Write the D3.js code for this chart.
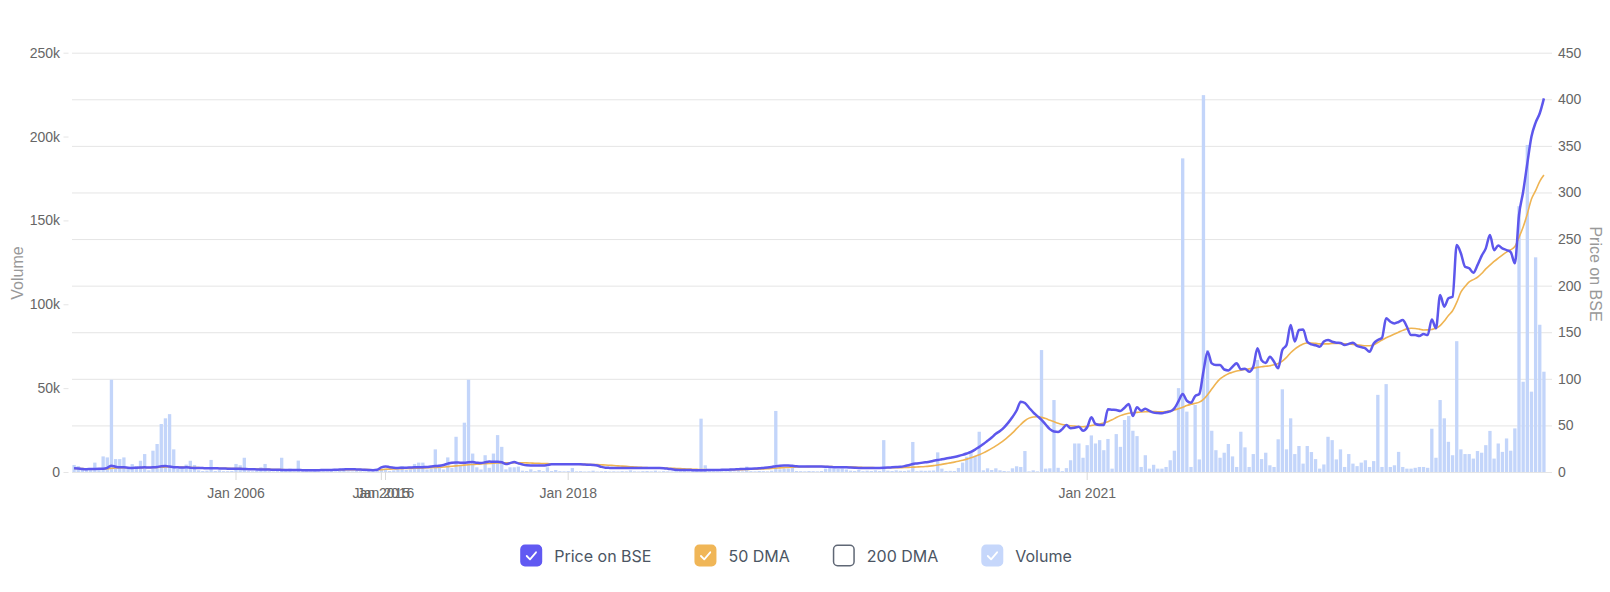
<!DOCTYPE html>
<html><head><meta charset="utf-8">
<script src="https://cdn.jsdelivr.net/npm/d3@7"></script>
<style>
html,body{margin:0;padding:0;background:#fff;}
svg{display:block}
</style></head>
<body>
<svg id="chart" width="1610" height="592"></svg>
<script>
// Volume (thousands), one bar per data point
const volume = [
4.2,3.5,2.5,1.8,1.5,5.6,1.2,9.3,8.7,55,
7.7,7.7,8.7,2,4.7,3.5,6.7,10.7,1,12.7,
16.7,28.6,32,34.5,13.5,2,2.8,4.4,6.7,4.2,
1,0.6,0.8,7.2,0.6,1,0.5,0.5,0.6,4.8,
4,8.5,0.5,0.4,0.6,2.8,4.8,0.5,0.3,0.5,
8.5,0.6,2,0.4,6.8,0.3,0.4,0.3,0.5,0.3,
0.4,0.3,0.5,0.4,0.6,2.4,0.4,0.3,0.5,0.4,
0.3,0.5,0.4,0.6,1.2,2,0.6,1,1.5,3.5,
1.2,1.5,4.8,5.6,5.6,1.5,2,13.5,4.4,1.5,
8.7,2.5,21,4,29.4,55,11,2.8,1.5,10,
2.5,11,22,15,1.6,2.8,2.8,3.2,0.8,0.6,
1.6,0.5,1.2,0.5,2.8,0.6,1.2,0.5,0.4,0.5,
2.4,0.4,0.5,0.3,0.4,0.8,0.3,0.4,0.5,0.3,
0.4,0.3,0.5,0.4,1,0.4,0.3,0.5,0.6,0.4,
0.8,0.3,0.5,0.4,0.3,1,0.4,0.5,0.3,0.4,
0.6,31.8,4,0.5,0.4,0.3,0.5,0.4,0.6,0.3,
0.5,0.4,3.2,0.5,0.4,0.6,0.5,0.4,0.8,36.4,
1.6,2,2,2.8,0.6,0.5,0.4,0.6,0.5,0.4,
0.6,2,2.2,2,1.8,2,1.5,0.8,0.6,1.2,
0.5,0.8,0.6,1,0.6,19,0.8,0.6,1,0.7,
0.6,0.9,17.9,0.5,0.8,0.7,0.8,0.9,11.7,2,
0.6,0.7,0.6,2.4,5.6,9.1,12,9.5,24,1,
2.2,1.2,2.2,1,0.6,0.4,2.2,3.4,3,12.5,
0.4,1,0.4,72.7,2,2.2,42.9,2.5,0.5,2.3,
7,17,17,8.5,16,21.8,17,19,13,19.7,
2,22.6,15,31,33.4,24.6,21.4,3,10,2,
4.3,2,2,3,7,12.7,50,187,36,3,
40,7.5,224.7,72.7,24.6,13,8.5,11.5,16.7,9.3,
3,24,14.7,3,10.7,66.8,7.7,11.5,4,3,
19.5,49.3,13.5,32,10.7,15.5,5,15.5,11.9,7.7,
2,4.5,21,19,7.5,13.5,3,10.7,5,3.5,
5.6,7,3,6.5,46,3,52.4,3,4,12,
3,2,2,2.5,3,3,2.5,25.8,8.5,42.9,
32,18,10,78,13.5,10.7,10.7,8,12.5,11.5,
16,24.5,8,17,12,20,12.7,26,158.5,53.8,
195,47.9,128,87.8,59.8
];

// Price on BSE
const price = [
4,3.8,3.2,3,3.2,3.3,3.4,3.5,4.5,6.8,
5.6,5,5,4.6,4.4,4.6,4.8,5,4.8,5,
5.4,6.2,6.4,5.8,5.2,5,4.8,5,4.6,4.2,
4.4,4.2,4,4,4,3.8,3.8,3.6,3.6,3.4,
3.4,3.2,3,3,2.8,2.8,2.6,2.6,2.4,2.4,
2.2,2.2,2.1,2.1,2.1,2,2,2,2,2,
2.1,2.1,2.2,2.4,2.6,2.8,3,3,2.8,2.6,
2.4,2.2,2,2.4,5,6,5.2,4.6,4.4,4.6,
4.6,4.8,5,5,5.2,5.4,6,6.4,6.6,7.5,
9,10,10.2,10,10,10.4,10.6,10,9.6,10.4,
11.2,11,11,10.5,8.6,9.5,10.7,9.3,8,7.2,
7.1,7.1,7.1,7,7.5,8.2,8.2,8.2,8.2,8.3,
8.3,8.2,8.2,8,7.8,7.6,7,5.5,4.6,4.4,
4.3,4.2,4.4,4.3,4.3,4.2,4.3,4.4,4.3,4.2,
4.2,4.3,4.1,3.6,3,2.4,2.2,2.1,2.1,2,
2,2,2,2.1,2.1,2.2,2.3,2.4,2.6,2.8,
3,3.2,3.4,3.6,3.8,4,4.4,4.8,5.4,6.2,
6.8,7.1,7,6.6,6.2,6,6,5.8,5.8,6,
5.8,5.6,5.4,5.2,5.2,5,5,4.8,4.6,4.4,
4.3,4.3,4.3,4.4,4.4,4.5,4.7,5,5.3,5.6,
6.3,7.2,8.6,9.2,9.8,10.4,11,12,12.9,13.6,
14.4,15.3,16.2,17.2,18.4,19.8,21.5,24,27,30,
33.5,37,41,44,48,53,59,66,75.5,74,
69,64,60,56,51,46,43.5,43,46,50.4,
47,47.5,48.6,44.3,48,58.7,51.5,50.5,50.4,67.3,
66.8,66.5,65.5,69,73,60,69.4,65.8,68,65.5,
63.7,63.2,63,64.2,65,68.3,76,83.7,76.5,74.4,
81.5,83.7,108,129,116.6,114.8,114.8,110,109,113,
116.6,110.2,110.9,107.6,113,132.7,120,117,123.7,118.3,
111.3,131,136.3,157.7,140,152.4,153,139.8,137,136,
134.4,140,141.6,139.8,138.8,138.5,136.3,137.5,138.8,135.2,
134,132.7,129,138,141.6,144,164.9,161.3,159.5,161,
163,155.9,147,147,145.9,148,147,163.8,154.2,189.9,
177.4,186.4,188.1,243.6,234.7,220.3,218.6,213.9,222,232,
240,254.3,238,243,240,238.2,236,224,275.8,300.8,
331.2,360,375,385,401
];

// 50 DMA
const dma50 = [
3.8,3.8,3.6,3.5,3.4,3.4,3.4,3.4,3.6,4,
4.3,4.5,4.6,4.6,4.6,4.6,4.7,4.8,4.8,4.9,
5,5.2,5.4,5.4,5.4,5.3,5.2,5.1,5,4.8,
4.7,4.5,4.4,4.3,4.2,4.1,4,3.9,3.8,3.7,
3.6,3.5,3.3,3.2,3.1,3,2.9,2.8,2.7,2.6,
2.5,2.4,2.3,2.3,2.2,2.2,2.1,2.1,2.1,2.1,
2.1,2.1,2.1,2.2,2.3,2.4,2.5,2.6,2.6,2.6,
2.6,2.5,2.4,2.4,2.6,2.9,3.1,3.3,3.5,3.6,
3.8,3.9,4,4.2,4.3,4.5,4.7,4.9,5.1,5.4,
5.8,6.2,6.6,7,7.4,7.8,8.1,8.4,8.6,8.9,
9.2,9.5,9.7,9.9,10,10,10,10,9.9,9.8,
9.6,9.4,9.3,9.1,9,8.8,8.7,8.6,8.5,8.4,
8.3,8.3,8.2,8.2,8.1,8,7.9,7.7,7.5,7.2,
6.9,6.6,6.3,6,5.7,5.4,5.1,4.9,4.7,4.5,
4.4,4.3,4.2,4.1,4,3.8,3.6,3.4,3.2,3,
2.8,2.6,2.5,2.4,2.3,2.2,2.2,2.2,2.3,2.4,
2.5,2.6,2.7,2.9,3,3.2,3.4,3.6,3.8,4.1,
4.4,4.7,5,5.2,5.4,5.6,5.7,5.8,5.9,5.9,
5.9,5.9,5.8,5.7,5.6,5.5,5.4,5.3,5.2,5,
4.9,4.8,4.7,4.6,4.6,4.5,4.5,4.5,4.6,4.7,
4.8,5,5.2,5.4,5.6,5.9,6.3,6.8,7.5,8.2,
9,9.8,10.6,11.5,12.6,13.8,15.2,16.8,18.5,20.5,
22.8,25.3,28,31,34.3,38,42,46.5,51,55,
57.8,59,59.3,58.6,57.3,55.5,54,52.3,51,50.2,
49.6,49.2,48.8,48.6,49,50,50.8,51.5,52.6,54,
56,58.4,60.5,62,63,63.6,64,64.4,64.7,64.8,
64.8,64.7,64.7,65,65.6,66.5,68,69.5,71.3,72.6,
73.8,75,78,83,89,95,100,103,105.5,107,
108.3,109.2,110,110.7,111.5,112.3,113,113.5,114,115,
116.5,119,123,128,132,135,137.5,138.5,138.5,138,
137.5,137.5,137.5,138,138,138,137.5,137.3,137,136.5,
136,135.5,135.5,136.5,139,141.6,144,146,148,150,
152,153.6,154.2,154,153.3,152.4,152.5,153,154.2,157,
162,168,173,182,193,199,204,206.5,209,213,
218,222,226,229.5,232.8,236,238.5,242,252,263,
277,293,302,312,318.7
];

// X tick positions (data point index) and labels
const tickIdx = [39, 74, 75, 119, 244];
const tickLabels = ["Jan 2006", "Jan 2015", "Jan 2016", "Jan 2018", "Jan 2021"];
const volTicks = [0, 50, 100, 150, 200, 250];
const priceTicks = [0, 50, 100, 150, 200, 250, 300, 350, 400, 450];
const legendItems = ["Price on BSE", "50 DMA", "200 DMA", "Volume"];

const N = volume.length;
const plotL = 72, plotR = 1546, plotT = 52.7, plotB = 472;
const tickFont = "'Liberation Sans', Arial, Helvetica, sans-serif";
const colPrice = "#5d57ec", colDma = "#efb452", colVol = "#c3d5fa";

const svg = d3.select("#chart");

const x = d3.scaleBand().domain(d3.range(N)).range([plotL, plotR]).paddingInner(0.2).paddingOuter(0.1);
const xc = i => x(i) + x.bandwidth() / 2;
const yVol = d3.scaleLinear().domain([0, 250]).range([plotB, plotT]);
const yPrice = d3.scaleLinear().domain([0, 450]).range([plotB, plotT]);

// right axis with grid lines
const ra = svg.append("g").attr("transform", "translate(1552,0)")
  .call(d3.axisRight(yPrice).tickValues(priceTicks).tickSize(-(1552 - plotL)).tickPadding(6).tickFormat(d3.format("d")));
ra.select(".domain").remove();
ra.selectAll("line").attr("stroke", "#e5e5e5");
ra.attr("font-size", 14).attr("font-family", tickFont);
ra.selectAll("text").attr("fill", "#666");

// left axis
const la = svg.append("g").attr("transform", "translate(68.5,0)")
  .call(d3.axisLeft(yVol).tickValues(volTicks).tickSize(5).tickPadding(3.5).tickFormat(d => d === 0 ? "0" : d + "k"));
la.select(".domain").remove();
la.selectAll("line").attr("stroke", "#e5e5e5");
la.attr("font-size", 14).attr("font-family", tickFont);
la.selectAll("text").attr("fill", "#666");

// bottom axis
const ba = svg.append("g").attr("transform", `translate(0,${plotB})`)
  .call(d3.axisBottom(x).tickValues(tickIdx).tickSize(8).tickPadding(8).tickFormat(d => tickLabels[tickIdx.indexOf(d)]));
ba.select(".domain").remove();
ba.selectAll("line").attr("stroke", "#d9d9d9");
ba.attr("font-size", 14).attr("font-family", tickFont);
ba.selectAll("text").attr("fill", "#666");

// volume bars
svg.append("g").selectAll("rect").data(volume).join("rect")
  .attr("x", (d, i) => x(i)).attr("width", x.bandwidth())
  .attr("y", d => yVol(d)).attr("height", d => plotB - yVol(d))
  .attr("fill", colVol);

// lines
const line = d3.line().x((d, i) => xc(i)).y(d => yPrice(d)).curve(d3.curveMonotoneX);
svg.append("path").datum(dma50).attr("d", line).attr("fill", "none")
  .attr("stroke", colDma).attr("stroke-width", 1.6);
svg.append("path").datum(price).attr("d", line).attr("fill", "none")
  .attr("stroke", colPrice).attr("stroke-width", 2.5).attr("stroke-linejoin", "round");

// axis titles
svg.append("text").attr("transform", "translate(17,273) rotate(-90)")
  .attr("text-anchor", "middle").attr("dominant-baseline", "central")
  .attr("font-family", tickFont).attr("font-size", 16).attr("fill", "#999").text("Volume");
svg.append("text").attr("transform", "translate(1595,274) rotate(90)")
  .attr("text-anchor", "middle").attr("dominant-baseline", "central")
  .attr("font-family", tickFont).attr("font-size", 16).attr("fill", "#999").text("Price on BSE");

// legend
const legendStyles = [
  {fill: "#6159f2", stroke: "#6159f2", check: true},
  {fill: "#f0b657", stroke: "#f0b657", check: true},
  {fill: "#ffffff", stroke: "#5f6775", check: false},
  {fill: "#c6d7fb", stroke: "#c6d7fb", check: true}
];
const lg = svg.append("g");
let cx = 0;
const box = 22, gapBT = 12, gapItem = 43, ly = 544.5;
legendItems.forEach((label, k) => {
  const st = legendStyles[k];
  const g = lg.append("g").attr("transform", `translate(${cx},${ly})`);
  g.append("rect").attr("x", 0.75).attr("y", 0.75).attr("width", box - 1.5).attr("height", box - 1.5)
    .attr("rx", 4).attr("fill", st.fill).attr("stroke", st.stroke).attr("stroke-width", 1.5);
  if (st.check) {
    g.append("path").attr("d", "M6.5 11.5 L9.8 14.8 L15.8 7.8").attr("fill", "none")
      .attr("stroke", "#fff").attr("stroke-width", 1.8).attr("stroke-linecap", "round").attr("stroke-linejoin", "round");
  }
  const t = g.append("text").attr("x", box + gapBT).attr("y", box / 2).attr("dominant-baseline", "central")
    .attr("font-family", "Inter, 'Noto Sans', sans-serif").attr("font-size", 16).attr("fill", "#4b5563").text(label);
  const w = t.node().getComputedTextLength();
  cx += box + gapBT + w + gapItem;
});
const totalW = cx - gapItem;
lg.attr("transform", `translate(${796 - totalW / 2},0)`);
</script>
</body></html>
